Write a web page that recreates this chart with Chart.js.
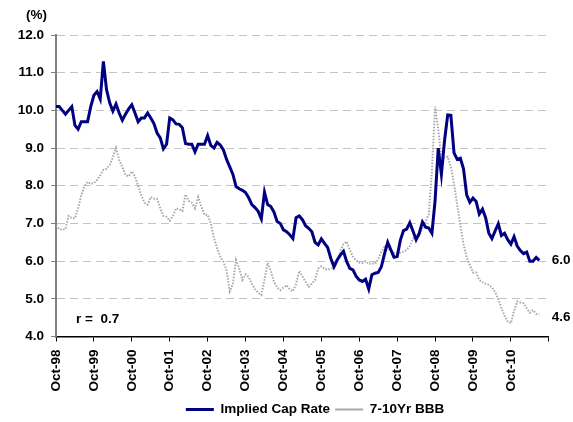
<!DOCTYPE html>
<html>
<head>
<meta charset="utf-8">
<script src="https://cdn.jsdelivr.net/npm/chart.js@4.4.0/dist/chart.umd.min.js"></script>
<style>
  html, body { margin: 0; padding: 0; background: #fff; }
  #box { width: 573px; height: 422px; }
</style>
</head>
<body>
<div id="box"><canvas id="capChart"></canvas></div>
<script>
// monthly, Oct-98 .. Jul-11
const capRate = [
  10.1, 10.1, 10.0, 9.9, 10.0, 10.1, 9.6, 9.5, 9.7, 9.7,
  9.7, 10.1, 10.4, 10.5, 10.3, 11.3, 10.55, 10.2, 9.98, 10.17,
  9.93, 9.74, 9.9, 10.04, 10.15, 9.93, 9.7, 9.8, 9.8, 9.93,
  9.8, 9.65, 9.4, 9.27, 8.98, 9.1, 9.8, 9.75, 9.64, 9.63,
  9.54, 9.12, 9.1, 9.1, 8.9, 9.1, 9.1, 9.1, 9.33, 9.07,
  9.0, 9.15, 9.08, 8.95, 8.7, 8.5, 8.3, 7.98, 7.92, 7.88,
  7.82, 7.68, 7.5, 7.42, 7.32, 7.12, 7.83, 7.5, 7.45, 7.3,
  7.05, 7.0, 6.83, 6.78, 6.7, 6.6, 7.15, 7.2, 7.1, 6.94,
  6.87, 6.78, 6.5, 6.43, 6.59, 6.47, 6.36, 6.07, 5.85, 6.03,
  6.16, 6.26, 5.99, 5.81, 5.77, 5.6, 5.5, 5.46, 5.52, 5.26,
  5.64, 5.68, 5.7, 5.85, 6.2, 6.5, 6.3, 6.1, 6.12, 6.55,
  6.81, 6.85, 7.02, 6.8, 6.57, 6.74, 7.04, 6.9, 6.88, 6.74,
  7.6, 9.0, 8.3, 9.2, 9.88, 9.87, 8.87, 8.7, 8.73, 8.45,
  7.76, 7.56, 7.67, 7.58, 7.25, 7.38, 7.15, 6.75, 6.6, 6.8,
  6.99, 6.68, 6.74, 6.57, 6.45, 6.65, 6.4, 6.28, 6.2, 6.24,
  6.0, 6.0, 6.1, 6.02
];
const bbbYield = [
  6.95, 6.85, 6.83, 6.85, 7.2, 7.14, 7.14, 7.4, 7.75, 7.97,
  8.1, 8.05, 8.07, 8.15, 8.28, 8.42, 8.45, 8.55, 8.75, 9.0,
  8.68, 8.5, 8.28, 8.25, 8.38, 8.25, 8.0, 7.75, 7.55, 7.5,
  7.7, 7.66, 7.65, 7.4, 7.2, 7.18, 7.07, 7.2, 7.4, 7.38,
  7.33, 7.77, 7.6, 7.55, 7.4, 7.7, 7.45, 7.23, 7.23, 7.0,
  6.62, 6.35, 6.12, 5.98, 5.75, 5.2, 5.4, 6.03, 5.8, 5.5,
  5.65, 5.58, 5.4, 5.25, 5.16, 5.1, 5.5, 5.95, 5.75, 5.45,
  5.3, 5.23, 5.3, 5.36, 5.25, 5.2, 5.4, 5.74, 5.6, 5.45,
  5.32, 5.4, 5.5, 5.8, 5.86, 5.8, 5.77, 5.8, 5.84, 5.97,
  6.27, 6.45, 6.52, 6.3, 6.12, 6.02, 5.96, 5.95, 6.0, 5.93,
  5.94, 5.93, 6.05, 6.25, 6.38, 6.34, 6.27, 6.22, 6.21, 6.22,
  6.25, 6.3, 6.4, 6.6, 6.62, 6.66, 6.88, 7.05, 7.25, 8.4,
  10.1, 9.5, 8.75, 8.75, 8.77, 8.5, 8.05, 7.5, 6.95, 6.45,
  6.1, 5.9, 5.7, 5.7, 5.5, 5.44, 5.4, 5.37, 5.3, 5.18,
  5.0, 4.75, 4.55, 4.4, 4.35, 4.68, 4.93, 4.9, 4.88, 4.75,
  4.63, 4.7, 4.6, 4.58
];
const yTicks = [4, 5, 6, 7, 8, 9, 10, 11, 12];
const endLabels = ["6.0", "4.6"];
const corrLabel = "r =  0.7";
const unitLabel = "(%)";

// axis runs Oct-98 .. Oct-11, one category per month
const monthNames = ["Jan", "Feb", "Mar", "Apr", "May", "Jun", "Jul", "Aug", "Sep", "Oct", "Nov", "Dec"];
const months = [];
for (let i = 0; i <= 156; i++) {
  const m = 9 + i;
  const yy = (1998 + Math.floor(m / 12)) % 100;
  months.push(monthNames[m % 12] + "-" + String(yy).padStart(2, "0"));
}

const FONT = "'Liberation Sans', Arial, sans-serif";
const FSIZE = 13.5;
const PLOT_BOTTOM = 336.5;
const LEGEND_MID = 412;
Chart.defaults.font.family = FONT;
Chart.defaults.font.size = FSIZE;
Chart.defaults.font.weight = "bold";
Chart.defaults.color = "#000";

const extraText = {
  id: "extraText",
  afterLayout(chart) {
    // the legend in the original sits lower and right of centre
    const lg = chart.legend;
    const dx = 315 - (lg.left + lg.right) / 2;
    lg.left += dx;
    lg.right += dx;
    const h = lg.height;
    lg.top = LEGEND_MID - h / 2;
    lg.bottom = lg.top + h;
  },
  afterDraw(chart) {
    const ctx = chart.ctx;
    const area = chart.chartArea;
    const y = chart.scales.y;
    ctx.save();
    ctx.font = "bold " + FSIZE + "px " + FONT;
    ctx.fillStyle = "#000";
    ctx.textBaseline = "middle";
    ctx.textAlign = "left";
    ctx.fillText(unitLabel, 26, 15);
    ctx.fillText(corrLabel, area.left + 20, y.getPixelForValue(4.45));
    ctx.fillText(endLabels[0], area.right + 3, y.getPixelForValue(capRate[capRate.length - 1]));
    ctx.fillText(endLabels[1], area.right + 3, y.getPixelForValue(4.5));
    ctx.restore();
  }
};

new Chart(document.getElementById("capChart"), {
  type: "line",
  data: {
    labels: months,
    datasets: [
      {
        label: "Implied Cap Rate",
        data: capRate,
        borderColor: "#000080",
        backgroundColor: "#000080",
        borderWidth: 3,
        pointRadius: 0,
        tension: 0,
      },
      {
        label: "7-10Yr BBB",
        data: bbbYield,
        borderColor: "#a8a8a8",
        backgroundColor: "#a8a8a8",
        borderWidth: 2,
        borderDash: [1.5, 1.5],
        pointRadius: 0,
        tension: 0,
      },
    ],
  },
  options: {
    responsive: true,
    maintainAspectRatio: false,
    animation: false,
    layout: { padding: { top: 35, right: 21, left: 0, bottom: 0 } },
    plugins: {
      legend: {
        position: "bottom",
        labels: {
          usePointStyle: true,
          pointStyle: "line",
          pointStyleWidth: 28,
          padding: 5,
          font: { size: FSIZE, weight: "bold" },
          color: "#000",
        },
      },
      tooltip: { enabled: false },
    },
    scales: {
      x: {
        type: "category",
        offset: false,
        grid: {
          display: true,
          drawOnChartArea: false,
          drawTicks: true,
          tickLength: 5,
          tickColor: "#000",
          tickWidth: 1,
        },
        border: { color: "#000", width: 1.5 },
        ticks: {
          autoSkip: false,
          minRotation: 90,
          maxRotation: 90,
          padding: 8,
          callback: function (value, index) {
            if (index % 12 !== 0) return null;
            if (index === 156) return "";
            return this.getLabelForValue(value);
          },
        },
        afterFit: function (scale) {
          // legend is fitted first, so its height is known here
          const lh = scale.chart.legend ? scale.chart.legend.height : 0;
          scale.height = scale.chart.height - PLOT_BOTTOM - lh;
        },
      },
      y: {
        min: 4,
        max: 12,
        afterBuildTicks: function (scale) {
          scale.ticks = yTicks.map(function (v) { return { value: v }; });
        },
        grid: {
          color: "#c4c4c4",
          lineWidth: 1,
          tickLength: 5,
          tickColor: "#808080",
          tickBorderDash: [],
        },
        border: { color: "#808080", width: 2, dash: [8, 5] },
        ticks: {
          padding: 7,
          callback: function (v) { return v.toFixed(1); },
        },
        afterFit: function (scale) {
          scale.width = 56;
        },
      },
    },
  },
  plugins: [extraText],
});
</script>
</body>
</html>
